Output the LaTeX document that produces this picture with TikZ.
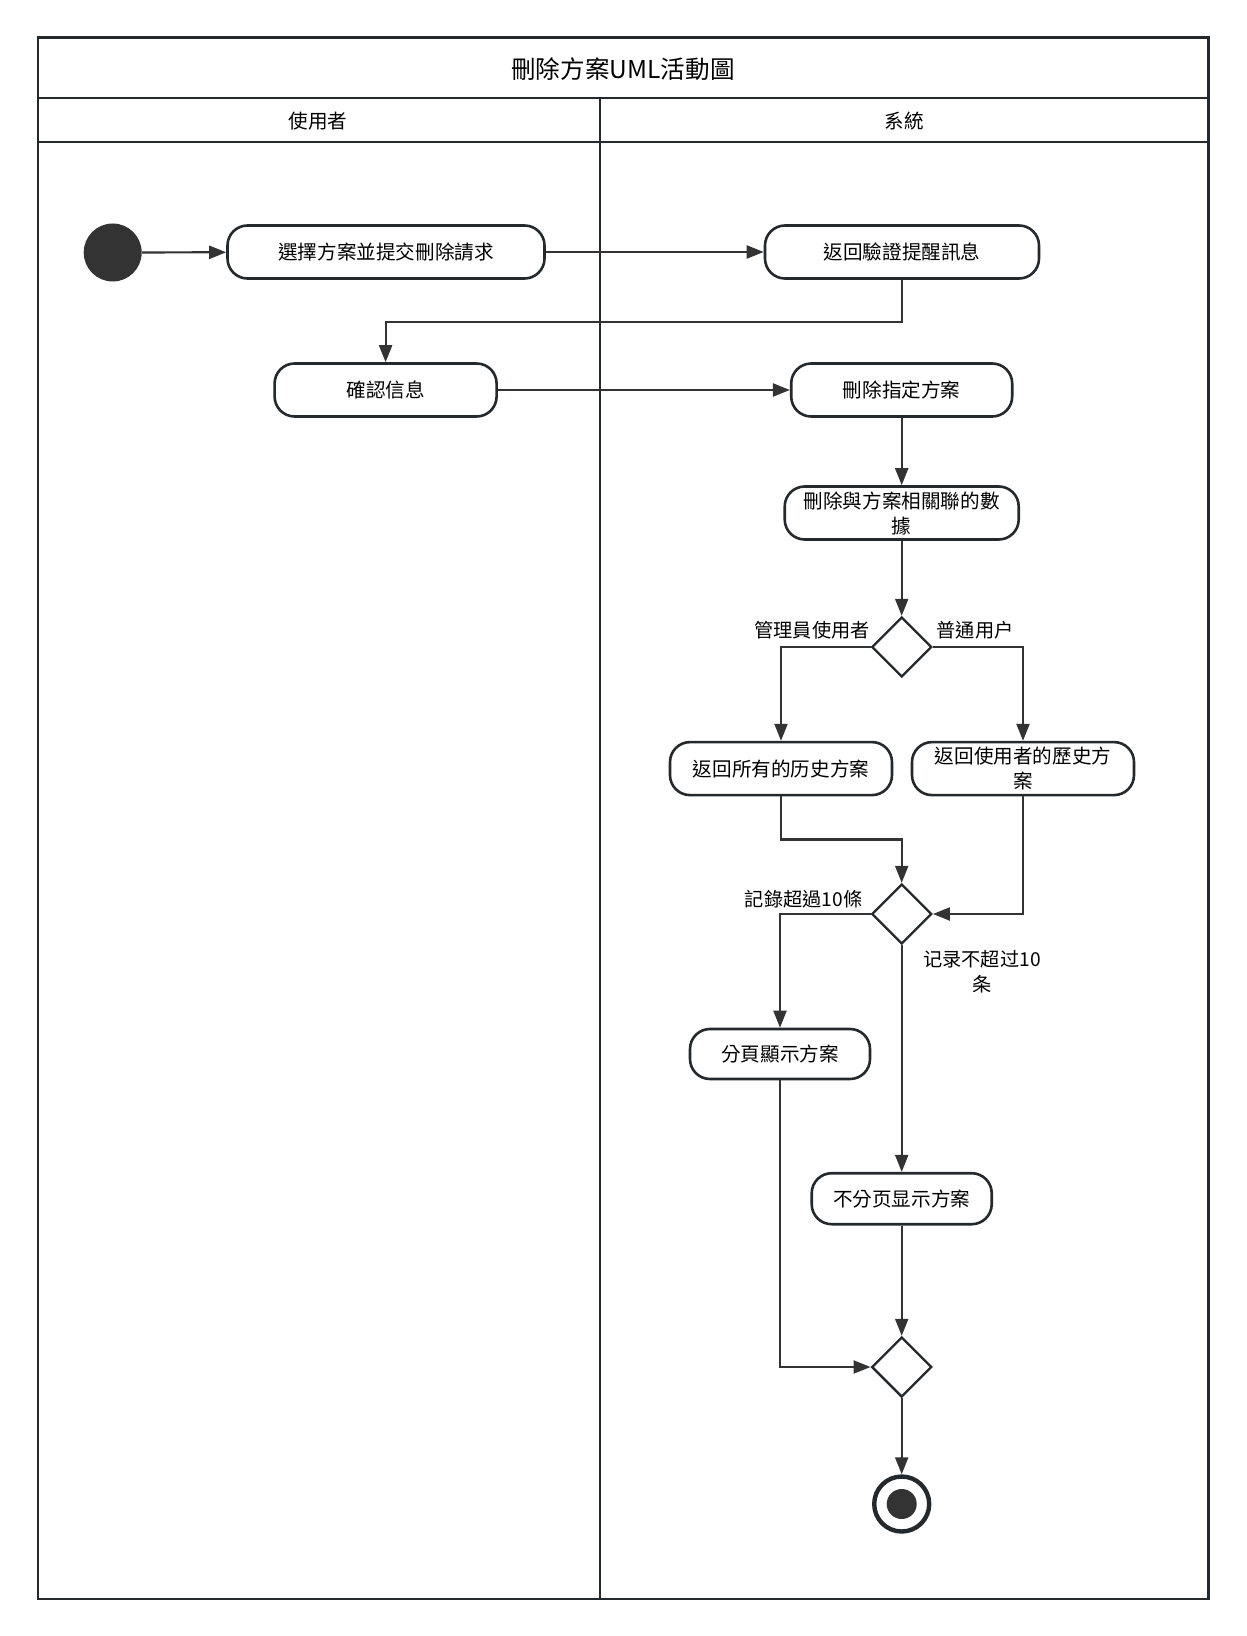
\documentclass[tikz,border=0pt]{standalone}
\usepackage{fontspec}
\setmainfont{Noto Sans CJK TC}
\usepackage{xcolor}
\usepackage{tikz}
\usetikzlibrary{positioning,arrows.meta,shapes.geometric}
\definecolor{ink}{HTML}{333333}
\definecolor{rim}{HTML}{24292E}

\begin{document}
\begin{tikzpicture}[x=0.5pt, y=-0.5pt,
  font=\fontsize{9.8}{12.5}\selectfont,
  act/.style={draw=rim, line width=1.3pt, rounded corners=10pt, align=center, inner sep=2pt, minimum height=26.5pt},
  gate/.style={draw=rim, diamond, line width=1.2pt, minimum size=30pt, inner sep=0pt},
  arr/.style={-{Triangle[length=8.5pt, width=6.5pt]}, line width=1.1pt, draw=ink},
  lane/.style={draw=rim, line width=1.1pt},
  guard/.style={font=\fontsize{9.6}{12.5}\selectfont, inner sep=1pt, align=center}]
\useasboundingbox (0,0) rectangle (1246,1636);
% swimlane frame
\draw[lane] (37.6,37.6) rectangle (1208.5,1599);
\draw[lane] (37.6,98) -- (1208.5,98);
\draw[lane] (37.6,142) -- (1208.5,142);
\draw[lane] (600,98) -- (600,1599);
\node[font=\fontsize{12.3}{14}\selectfont] (title) at (623,69) {刪除方案UML活動圖};
\node (laneuser) at (318,121) {使用者};
\node (lanesys) at (904,121) {系統};
% activities
\node[fill=ink, circle, minimum size=29pt, inner sep=0pt] (init) at (112.7,252.5) {};
\node[act, minimum width=158.5pt] (pick) at (386,252) {選擇方案並提交刪除請求};
\node[act, minimum width=137pt] (check) at (902,252) {返回驗證提醒訊息};
\node[act, minimum width=111pt] (confirm) at (385.6,390) {確認信息};
\node[act, minimum width=110.5pt] (remove) at (901.7,390) {刪除指定方案};
\node[act, minimum width=117pt] (purge) at (901.7,513) {刪除與方案相關聯的數\\據};
\node[gate] (branch) at (901.7,647) {};
\node[act, minimum width=111pt] (allhist) at (781,768.6) {返回所有的历史方案};
\node[act, minimum width=111pt] (userhist) at (1023,768.6) {返回使用者的歷史方\\案};
\node[gate] (merge) at (901.7,914) {};
\node[act, minimum width=90pt, minimum height=25pt] (paged) at (780,1054) {分頁顯示方案};
\node[act, minimum width=90pt, minimum height=25.5pt] (flat) at (901.7,1198.7) {不分页显示方案};
\node[gate] (join) at (901.7,1367) {};
\node[circle, draw=rim, line width=2.2pt, minimum size=27.5pt] (finish) at (901.7,1504) {};
\node[circle, fill=ink, minimum size=15pt, inner sep=0pt] (finishdot) at (finish) {};
% guards
\node[guard] (gadmin) at (812,630) {管理員使用者};
\node[guard] (gplain) at (975,630) {普通用户};
\node[guard] (gmany) at (803.6,899.6) {記錄超過10條};
\node[guard] (gfew) at (982,972) {记录不超过10\\条};
% flows
\draw[arr] (init) -- (pick);
\draw[arr] (pick) -- (check);
\draw[arr] (check.south) -- ++(0,42) -| (confirm.north);
\draw[arr] (confirm) -- (remove);
\draw[arr] (remove) -- (purge);
\draw[arr] (purge) -- (branch);
\draw[arr] (branch.west) -| (allhist.north);
\draw[arr] (branch.east) -| (userhist.north);
\draw[arr] (allhist.south) -- ++(0,43) -| (merge.north);
\draw[arr] (userhist.south) |- (merge.east);
\draw[arr] (merge.west) -| (paged.north);
\draw[arr] (merge.south) -- (flat.north);
\draw[arr] (paged.south) |- (join.west);
\draw[arr] (flat) -- (join);
\draw[arr] (join) -- (finish);
\end{tikzpicture}
\end{document}
